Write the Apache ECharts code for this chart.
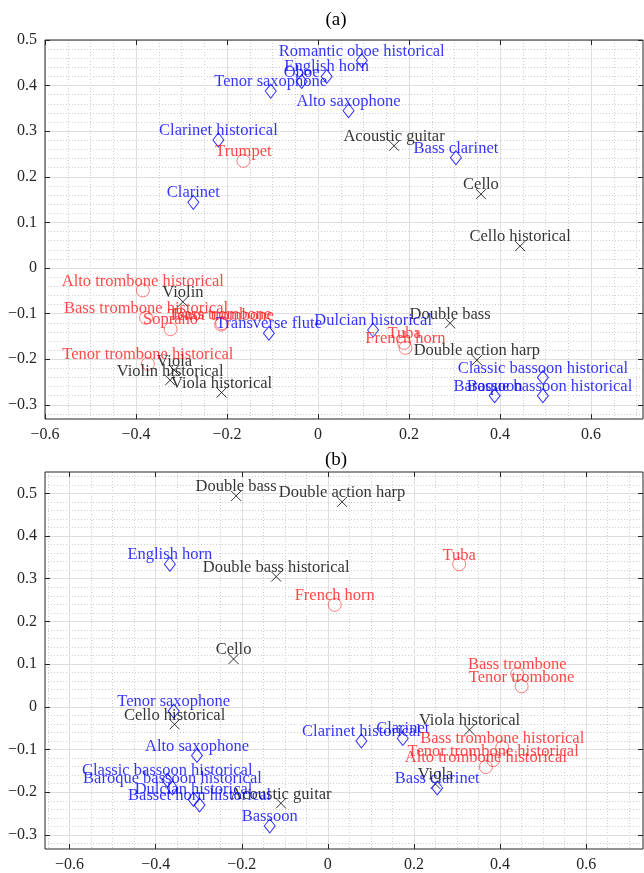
<!DOCTYPE html>
<html>
<head>
<meta charset="utf-8">
<script src="https://cdn.jsdelivr.net/npm/echarts@6/dist/echarts.min.js"></script>
<style>
html,body{margin:0;padding:0;background:#fff;}
#main{width:644px;height:873px;}
</style>
</head>
<body>
<div id="main"></div>
<script>
// ---- panel (a) ----
var stringsA = ['Acoustic guitar', 'Cello', 'Cello historical', 'Double bass', 'Double action harp', 'Violin', 'Viola', 'Violin historical', 'Viola historical'];
var stringsAx = [0.167, 0.358, 0.444, 0.290, 0.349, -0.297, -0.316, -0.325, -0.212];
var stringsAy = [0.268, 0.162, 0.048, -0.121, -0.202, -0.074, -0.224, -0.246, -0.273];

var windsA = ['Romantic oboe historical', 'English horn', 'Oboe', 'Tenor saxophone', 'Alto saxophone', 'Clarinet historical', 'Clarinet', 'Bass clarinet', 'Transverse flute', 'Dulcian historical', 'Classic bassoon historical', 'Baroque bassoon historical', 'Bassoon'];
var windsAx = [0.096, 0.019, -0.036, -0.104, 0.067, -0.219, -0.274, 0.303, -0.108, 0.121, 0.494, 0.494, 0.388];
var windsAy = [0.455, 0.420, 0.409, 0.388, 0.345, 0.281, 0.144, 0.242, -0.143, -0.136, -0.240, -0.280, -0.280];

var brassA = ['Trumpet', 'Alto trombone historical', 'Bass trombone historical', 'Soprano', 'Bass trombone', 'Tenor trombone', 'Tenor trombone historical', 'French horn', 'Tuba'];
var brassAx = [-0.164, -0.385, -0.378, -0.324, -0.211, -0.213, -0.374, 0.192, 0.189];
var brassAy = [0.235, -0.049, -0.109, -0.134, -0.121, -0.124, -0.210, -0.175, -0.164];

// ---- panel (b) ----
var stringsB = ['Double bass', 'Double action harp', 'Double bass historical', 'Cello', 'Cello historical', 'Acoustic guitar', 'Viola historical', 'Viola'];
var stringsBx = [-0.213, 0.033, -0.120, -0.219, -0.356, -0.109, 0.329, 0.250];
var stringsBy = [0.494, 0.480, 0.305, 0.112, -0.041, -0.226, -0.054, -0.181];

var windsB = ['English horn', 'Tenor saxophone', 'Alto saxophone', 'Classic bassoon historical', 'Baroque bassoon historical', 'Dulcian historical', 'Basset horn historical', 'Bassoon', 'Clarinet historical', 'Clarinet', 'Bass clarinet'];
var windsBx = [-0.367, -0.358, -0.304, -0.373, -0.361, -0.312, -0.298, -0.135, 0.078, 0.174, 0.254];
var windsBy = [0.334, -0.010, -0.114, -0.172, -0.190, -0.217, -0.230, -0.279, -0.080, -0.074, -0.190];

var brassB = ['Tuba', 'French horn', 'Bass trombone', 'Tenor trombone', 'Bass trombone historical', 'Tenor trombone historical', 'Alto trombone historical'];
var brassBx = [0.305, 0.016, 0.440, 0.450, 0.405, 0.384, 0.367];
var brassBy = [0.334, 0.239, 0.077, 0.048, -0.095, -0.125, -0.141];

// ticks
var xTicks = [-0.6, -0.4, -0.2, 0, 0.2, 0.4, 0.6];
var yTicks = [-0.3, -0.2, -0.1, 0, 0.1, 0.2, 0.3, 0.4, 0.5];

var FONT = 'Liberation Serif';
var AXC = '#262626';

function minorList(from, to, step, majors) {
    var out = [];
    for (var v = from; v <= to + 1e-9; v += step) {
        var r = Math.round(v * 1000) / 1000;
        var isMajor = majors.some(function (m) { return Math.abs(m - r) < 1e-6; });
        if (!isMajor) out.push(r);
    }
    return out;
}
function fmt(v) {
    if (Math.abs(v) < 1e-9) return '0';
    return (+v.toFixed(1)).toString().replace('-', '\u2212');
}
function points(names, xs, ys) {
    return names.map(function (n, i) { return { name: n, value: [xs[i], ys[i]] }; });
}

// 3 axes per direction per grid: main (labels + major grid), minor grid, opposite ticks
function makeAxes(dim, gridIndex, min, max, majors, minors) {
    var main = dim === 'x' ? 'bottom' : 'left';
    var opp = dim === 'x' ? 'top' : 'right';
    return [{
        type: 'value', gridIndex: gridIndex, min: min, max: max, position: main, z: 3,
        axisLine: { show: false, onZero: false },
        axisTick: { show: true, inside: true, length: 5, customValues: majors, lineStyle: { color: AXC } },
        axisLabel: {
            show: true, customValues: majors, margin: 8, color: AXC,
            fontFamily: FONT, fontSize: 16, formatter: fmt
        },
        splitLine: { show: true, lineStyle: { color: '#dedede', width: 1 } }
    }, {
        type: 'value', gridIndex: gridIndex, min: min, max: max, position: main, z: 1,
        axisLine: { show: false, onZero: false },
        axisTick: { show: false, customValues: minors },
        axisLabel: { show: false },
        splitLine: { show: true, lineStyle: { color: '#cfcfcf', width: 1, type: [1, 2] } }
    }, {
        type: 'value', gridIndex: gridIndex, min: min, max: max, position: opp, z: 3,
        axisLine: { show: false, onZero: false },
        axisTick: { show: true, inside: true, length: 5, customValues: majors, lineStyle: { color: AXC } },
        axisLabel: { show: false },
        splitLine: { show: false }
    }];
}

var xMinA = -0.6, xMaxA = 0.714, yMinA = -0.331, yMaxA = 0.5;
var xMinB = -0.657, xMaxB = 0.732, yMinB = -0.333, yMaxB = 0.55;

var xAxes = makeAxes('x', 0, xMinA, xMaxA, xTicks, minorList(-0.6, 0.7, 0.05, xTicks))
    .concat(makeAxes('x', 1, xMinB, xMaxB, xTicks, minorList(-0.65, 0.7, 0.05, xTicks)));
var yAxes = makeAxes('y', 0, yMinA, yMaxA, yTicks, minorList(-0.32, 0.48, 0.02, yTicks))
    .concat(makeAxes('y', 1, yMinB, yMaxB, yTicks, minorList(-0.32, 0.54, 0.02, yTicks)));

var CROSS = 'path://M0 0L10 10M10 0L0 10';

function group(data, panel, kind) {
    var styles = {
        str: { symbol: CROSS, size: 10, color: '#000000', width: 1, dist: -7 },
        wind: { symbol: 'diamond', size: [11, 14], color: '#0000ff', width: 1, dist: -9 },
        brass: { symbol: 'circle', size: 13, color: '#ff1a1a', width: 0.7, dist: -8.5 }
    };
    var s = styles[kind];
    return {
        type: 'scatter',
        xAxisIndex: panel * 3,
        yAxisIndex: panel * 3,
        symbol: s.symbol,
        symbolSize: s.size,
        data: data,
        silent: true,
        z: 4,
        itemStyle: { color: 'none', borderColor: s.color, borderWidth: s.width },
        label: {
            show: true, formatter: '{b}', position: 'top', distance: s.dist,
            color: s.color, fontFamily: FONT, fontSize: 16.5
        }
    };
}

var chart = echarts.init(document.getElementById('main'));
var option = {
    animation: false,
    backgroundColor: '#ffffff',
    title: [
        { text: '(a)', left: 331, top: 6, textAlign: 'center', textStyle: { fontFamily: FONT, fontSize: 19, fontWeight: 'normal', color: '#000' } },
        { text: '(b)', left: 331, top: 446, textAlign: 'center', textStyle: { fontFamily: FONT, fontSize: 19, fontWeight: 'normal', color: '#000' } }
    ],
    grid: [
        { left: 45, top: 40, width: 598, height: 379, show: true, z: 6, borderColor: AXC, borderWidth: 1, backgroundColor: 'transparent' },
        { left: 45, top: 472, width: 598, height: 380, show: true, z: 6, borderColor: AXC, borderWidth: 1, backgroundColor: 'transparent' }
    ],
    xAxis: xAxes,
    yAxis: yAxes,
    series: [
        group(points(stringsA, stringsAx, stringsAy), 0, 'str'),
        group(points(windsA, windsAx, windsAy), 0, 'wind'),
        group(points(brassA, brassAx, brassAy), 0, 'brass'),
        group(points(stringsB, stringsBx, stringsBy), 1, 'str'),
        group(points(windsB, windsBx, windsBy), 1, 'wind'),
        group(points(brassB, brassBx, brassBy), 1, 'brass')
    ]
};
chart.setOption(option);
</script>
</body>
</html>
